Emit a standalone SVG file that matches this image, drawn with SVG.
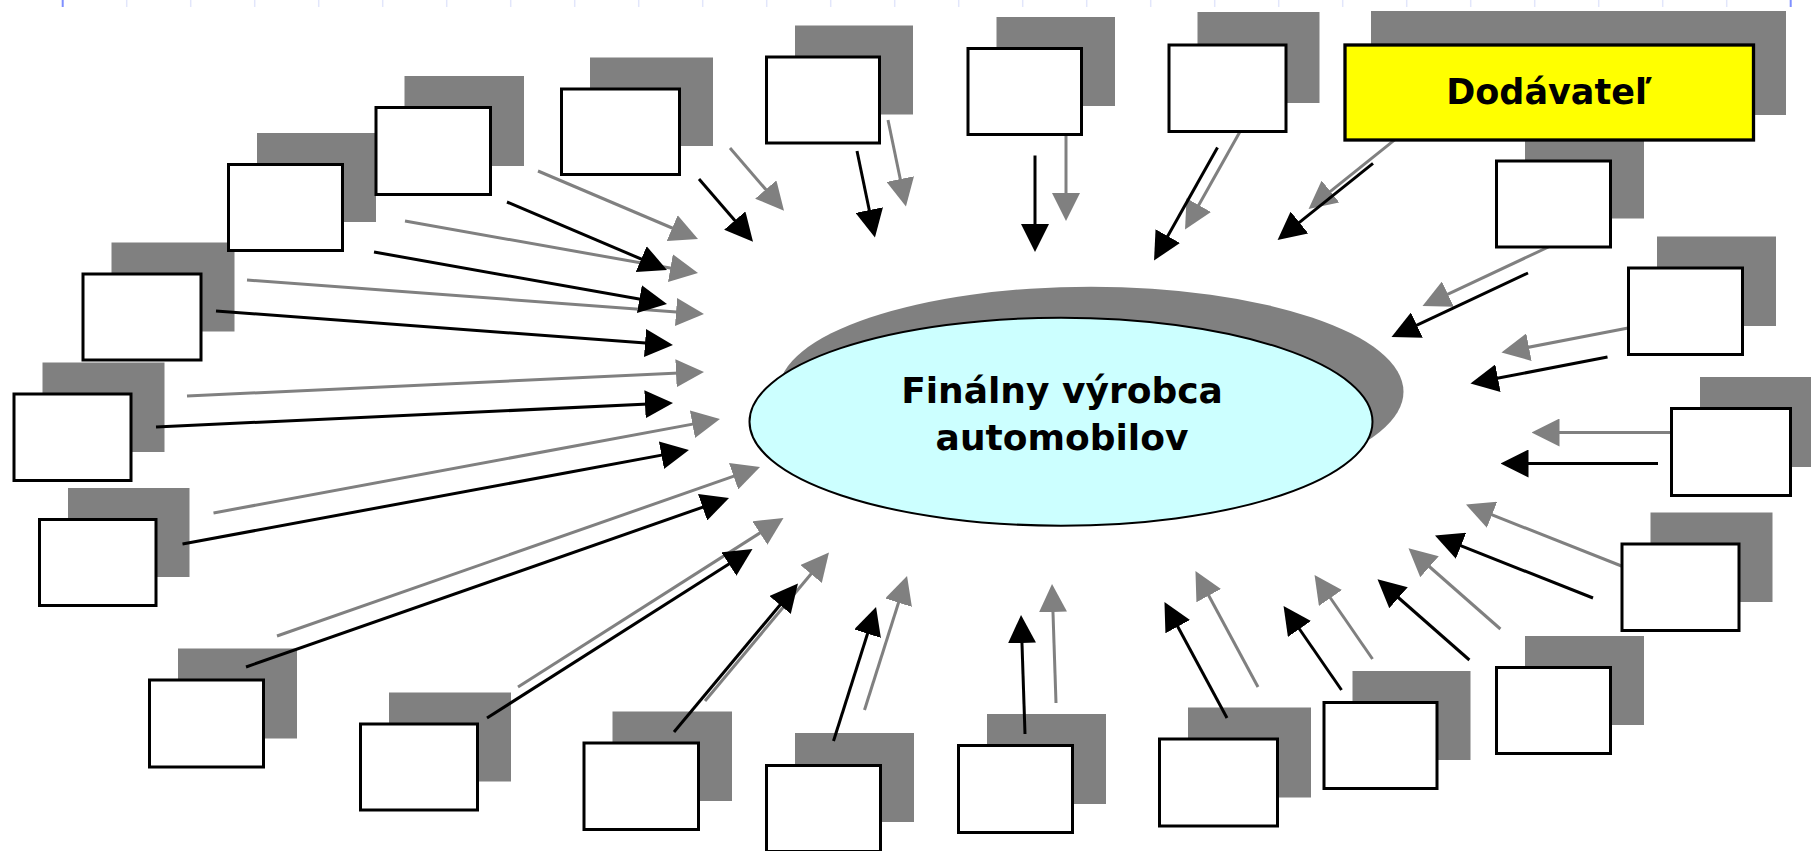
<svg xmlns="http://www.w3.org/2000/svg" width="1811" height="851" viewBox="0 0 1811 851">
  <style>
    .tick { stroke: #e2e6fb; stroke-width: 1.5; }
    .tick.major { stroke: #7f90ff; stroke-width: 2; }
    .drop { fill: #808080; }
    .box { fill: #ffffff; stroke: #000000; stroke-width: 3; }
    .supplier { fill: #ffff00; stroke: #000000; stroke-width: 3.3; }
    .hub { fill: #ccffff; stroke: #000000; stroke-width: 2; }
    .shade line { stroke: #808080; stroke-width: 3; marker-end: url(#headGray); }
    .link line { stroke: #000000; stroke-width: 3; marker-end: url(#headBlack); }
    .label { font-family: "DejaVu Sans", Verdana, sans-serif; font-weight: bold; fill: #000000; text-anchor: middle; }
  </style>
  <defs>
    <marker id="headBlack" markerUnits="userSpaceOnUse" viewBox="0 0 28 28" markerWidth="28" markerHeight="28" refX="14" refY="14" orient="auto">
      <path d="M0,0 L28,14 L0,28 z" fill="#000000"/>
    </marker>
    <marker id="headGray" markerUnits="userSpaceOnUse" viewBox="0 0 28 28" markerWidth="28" markerHeight="28" refX="14" refY="14" orient="auto">
      <path d="M0,0 L28,14 L0,28 z" fill="#808080"/>
    </marker>
  </defs>

  <rect width="1811" height="851" fill="#ffffff"/>

  <!-- ruler ticks along the top edge -->
  <g id="ruler">
    <line class="tick major" x1="62.7" y1="0" x2="62.7" y2="7"/>
    <line class="tick" x1="126.7" y1="0" x2="126.7" y2="7"/>
    <line class="tick" x1="190.7" y1="0" x2="190.7" y2="7"/>
    <line class="tick" x1="254.7" y1="0" x2="254.7" y2="7"/>
    <line class="tick" x1="318.7" y1="0" x2="318.7" y2="7"/>
    <line class="tick" x1="382.7" y1="0" x2="382.7" y2="7"/>
    <line class="tick" x1="446.7" y1="0" x2="446.7" y2="7"/>
    <line class="tick" x1="510.7" y1="0" x2="510.7" y2="7"/>
    <line class="tick" x1="574.7" y1="0" x2="574.7" y2="7"/>
    <line class="tick" x1="638.7" y1="0" x2="638.7" y2="7"/>
    <line class="tick" x1="702.7" y1="0" x2="702.7" y2="7"/>
    <line class="tick" x1="766.7" y1="0" x2="766.7" y2="7"/>
    <line class="tick" x1="830.7" y1="0" x2="830.7" y2="7"/>
    <line class="tick" x1="894.7" y1="0" x2="894.7" y2="7"/>
    <line class="tick" x1="958.7" y1="0" x2="958.7" y2="7"/>
    <line class="tick" x1="1022.7" y1="0" x2="1022.7" y2="7"/>
    <line class="tick" x1="1086.7" y1="0" x2="1086.7" y2="7"/>
    <line class="tick" x1="1150.7" y1="0" x2="1150.7" y2="7"/>
    <line class="tick" x1="1214.7" y1="0" x2="1214.7" y2="7"/>
    <line class="tick" x1="1278.7" y1="0" x2="1278.7" y2="7"/>
    <line class="tick" x1="1342.7" y1="0" x2="1342.7" y2="7"/>
    <line class="tick" x1="1406.7" y1="0" x2="1406.7" y2="7"/>
    <line class="tick" x1="1470.7" y1="0" x2="1470.7" y2="7"/>
    <line class="tick" x1="1534.7" y1="0" x2="1534.7" y2="7"/>
    <line class="tick" x1="1598.7" y1="0" x2="1598.7" y2="7"/>
    <line class="tick" x1="1662.7" y1="0" x2="1662.7" y2="7"/>
    <line class="tick" x1="1726.7" y1="0" x2="1726.7" y2="7"/>
    <line class="tick major" x1="1790.7" y1="0" x2="1790.7" y2="7"/>
  </g>

  <!-- drop shadows of all shapes -->
  <g id="shadows">
    <ellipse class="drop" cx="1091" cy="391.7" rx="312.5" ry="105"/>
    <rect class="drop" x="42.5" y="362.5" width="122" height="89.5"/>
    <rect class="drop" x="111.5" y="242.5" width="123" height="89"/>
    <rect class="drop" x="257" y="133" width="119" height="89"/>
    <rect class="drop" x="404.5" y="76" width="119.5" height="90"/>
    <rect class="drop" x="590" y="57.5" width="123" height="88.5"/>
    <rect class="drop" x="795" y="25.5" width="118" height="89"/>
    <rect class="drop" x="996.5" y="17" width="118.5" height="89"/>
    <rect class="drop" x="1197.5" y="12" width="122" height="91"/>
    <rect class="drop" x="1371" y="11" width="415" height="104"/>
    <rect class="drop" x="1525" y="129.5" width="119" height="89"/>
    <rect class="drop" x="1657" y="236.5" width="119" height="89.5"/>
    <rect class="drop" x="1700" y="377" width="124" height="90"/>
    <rect class="drop" x="1650.5" y="512.5" width="122" height="89.5"/>
    <rect class="drop" x="1525" y="636" width="119" height="89"/>
    <rect class="drop" x="1352.5" y="671" width="118" height="89"/>
    <rect class="drop" x="1188" y="707.5" width="123" height="90"/>
    <rect class="drop" x="987" y="714" width="119" height="90"/>
    <rect class="drop" x="795" y="733" width="119" height="89"/>
    <rect class="drop" x="612.5" y="711.5" width="119.5" height="89.5"/>
    <rect class="drop" x="389" y="692.5" width="122" height="89"/>
    <rect class="drop" x="178" y="648.5" width="119" height="90"/>
    <rect class="drop" x="68" y="488" width="121.5" height="89"/>
  </g>

  <g id="connectors">
    <!-- shadow copies of the arrows -->
    <g class="shade" transform="translate(31,-31)">
      <line x1="699" y1="179" x2="743.9" y2="231.1"/>
      <line x1="507" y1="202" x2="654.1" y2="264.5"/>
      <line x1="374" y1="252" x2="653.2" y2="301.6"/>
      <line x1="216" y1="311" x2="659" y2="344"/>
      <line x1="156" y1="427" x2="659" y2="403.6"/>
      <line x1="182.5" y1="544" x2="675.2" y2="452.6"/>
      <line x1="246" y1="667" x2="715.8" y2="502.6"/>
      <line x1="487" y1="718" x2="740.7" y2="556.5"/>
      <line x1="674" y1="732" x2="789" y2="594.2"/>
      <line x1="833.5" y1="741" x2="871.8" y2="620.3"/>
      <line x1="1025" y1="734" x2="1021.5" y2="629"/>
      <line x1="1227" y1="718" x2="1171.1" y2="614.3"/>
      <line x1="1341.5" y1="690" x2="1291.5" y2="617.5"/>
      <line x1="1469.4" y1="660" x2="1388" y2="588.5"/>
      <line x1="1593" y1="598" x2="1448" y2="540.7"/>
      <line x1="1658" y1="463.5" x2="1514.5" y2="463.5"/>
      <line x1="1607.5" y1="357" x2="1484.2" y2="380.8"/>
      <line x1="1528" y1="273" x2="1404.2" y2="331.1"/>
      <line x1="1373" y1="163.3" x2="1288.5" y2="231.2"/>
      <line x1="1217.5" y1="147.5" x2="1160.9" y2="248.3"/>
      <line x1="1035" y1="155.5" x2="1035" y2="238"/>
      <line x1="857" y1="151" x2="872.1" y2="223.8"/>
    </g>
    <!-- arrows from each supplier toward the manufacturer -->
    <g class="link">
      <line x1="699" y1="179" x2="743.9" y2="231.1"/>
      <line x1="507" y1="202" x2="654.1" y2="264.5"/>
      <line x1="374" y1="252" x2="653.2" y2="301.6"/>
      <line x1="216" y1="311" x2="659" y2="344"/>
      <line x1="156" y1="427" x2="659" y2="403.6"/>
      <line x1="182.5" y1="544" x2="675.2" y2="452.6"/>
      <line x1="246" y1="667" x2="715.8" y2="502.6"/>
      <line x1="487" y1="718" x2="740.7" y2="556.5"/>
      <line x1="674" y1="732" x2="789" y2="594.2"/>
      <line x1="833.5" y1="741" x2="871.8" y2="620.3"/>
      <line x1="1025" y1="734" x2="1021.5" y2="629"/>
      <line x1="1227" y1="718" x2="1171.1" y2="614.3"/>
      <line x1="1341.5" y1="690" x2="1291.5" y2="617.5"/>
      <line x1="1469.4" y1="660" x2="1388" y2="588.5"/>
      <line x1="1593" y1="598" x2="1448" y2="540.7"/>
      <line x1="1658" y1="463.5" x2="1514.5" y2="463.5"/>
      <line x1="1607.5" y1="357" x2="1484.2" y2="380.8"/>
      <line x1="1528" y1="273" x2="1404.2" y2="331.1"/>
      <line x1="1373" y1="163.3" x2="1288.5" y2="231.2"/>
      <line x1="1217.5" y1="147.5" x2="1160.9" y2="248.3"/>
      <line x1="1035" y1="155.5" x2="1035" y2="238"/>
      <line x1="857" y1="151" x2="872.1" y2="223.8"/>
    </g>
  </g>

  <!-- central node -->
  <g id="manufacturer">
    <ellipse class="hub" cx="1061" cy="421.7" rx="311.5" ry="104"/>
    <text class="label" x="1062" y="403" font-size="36">Finálny výrobca</text>
    <text class="label" x="1062" y="450" font-size="36">automobilov</text>
  </g>

  <!-- named supplier -->
  <g id="supplier">
    <rect class="supplier" x="1345" y="45" width="408.5" height="95"/>
    <text class="label" x="1549" y="104.3" font-size="35">Dodávateľ</text>
  </g>

  <!-- empty supplier boxes, clockwise from the left -->
  <g id="node-a"><rect class="box" x="14" y="394" width="117" height="86.5"/></g>
  <g id="node-b"><rect class="box" x="83" y="274" width="118" height="86"/></g>
  <g id="node-c"><rect class="box" x="228.5" y="164.5" width="114" height="86"/></g>
  <g id="node-d"><rect class="box" x="376" y="107.5" width="114.5" height="87"/></g>
  <g id="node-e"><rect class="box" x="561.5" y="89" width="118" height="85.5"/></g>
  <g id="node-f"><rect class="box" x="766.5" y="57" width="113" height="86"/></g>
  <g id="node-g"><rect class="box" x="968" y="48.5" width="113.5" height="86"/></g>
  <g id="node-h"><rect class="box" x="1169" y="45" width="117" height="86.5"/></g>
  <g id="node-i"><rect class="box" x="1496.5" y="161" width="114" height="86"/></g>
  <g id="node-j"><rect class="box" x="1628.5" y="268" width="114" height="86.5"/></g>
  <g id="node-k"><rect class="box" x="1671.5" y="408.5" width="119" height="87"/></g>
  <g id="node-l"><rect class="box" x="1622" y="544" width="117" height="86.5"/></g>
  <g id="node-m"><rect class="box" x="1496.5" y="667.5" width="114" height="86"/></g>
  <g id="node-n"><rect class="box" x="1324" y="702.5" width="113" height="86"/></g>
  <g id="node-o"><rect class="box" x="1159.5" y="739" width="118" height="87"/></g>
  <g id="node-p"><rect class="box" x="958.5" y="745.5" width="114" height="87"/></g>
  <g id="node-q"><rect class="box" x="766.5" y="765.5" width="114" height="86"/></g>
  <g id="node-r"><rect class="box" x="584" y="743" width="114.5" height="86.5"/></g>
  <g id="node-s"><rect class="box" x="360.5" y="724" width="117" height="86"/></g>
  <g id="node-t"><rect class="box" x="149.5" y="680" width="114" height="87"/></g>
  <g id="node-u"><rect class="box" x="39.5" y="519.5" width="116.5" height="86"/></g>
</svg>
